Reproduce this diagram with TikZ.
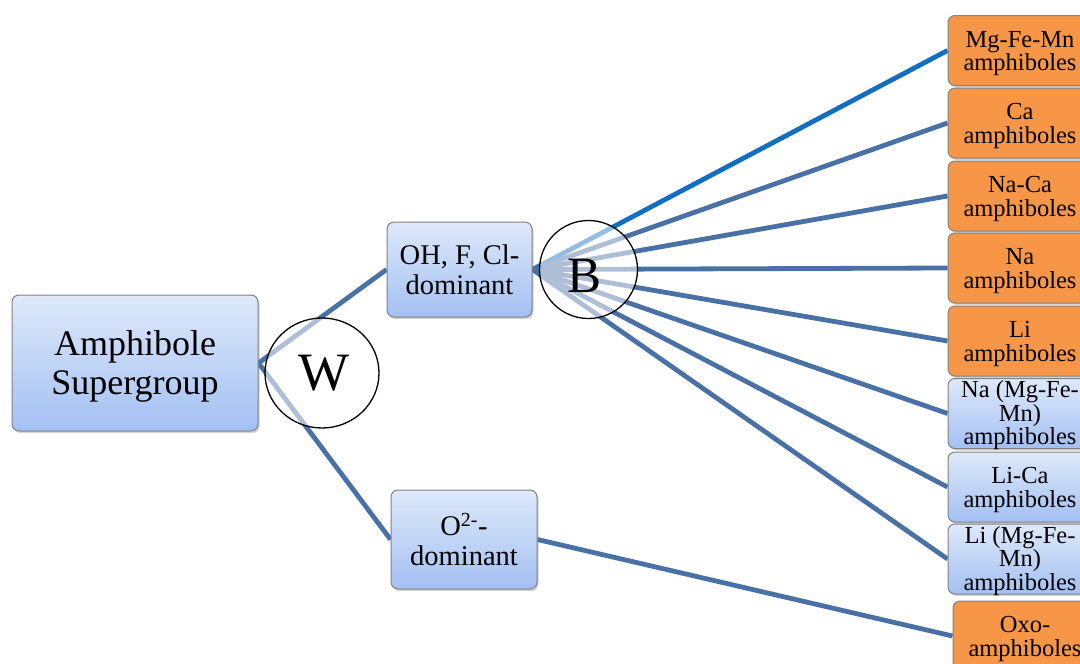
\documentclass[tikz,border=0pt]{standalone}
\usepackage{fontspec}
\setmainfont{Liberation Serif}
\usetikzlibrary{shadows,shapes.geometric}

\definecolor{boxtop}{RGB}{222,233,250}
\definecolor{boxbot}{RGB}{163,192,243}
\definecolor{orangefill}{RGB}{247,150,70}
\definecolor{linkblue}{RGB}{74,113,165}
\definecolor{brightblue}{RGB}{18,110,192}
\definecolor{edgegray}{RGB}{130,130,130}

\pgfdeclarelayer{links}
\pgfsetlayers{links,main}

\tikzset{
  basebox/.style={draw=edgegray, line width=1pt, rounded corners=7pt, inner sep=0pt,
    drop shadow={shadow xshift=1.5pt, shadow yshift=-2pt, opacity=0.35}},
  bluebox/.style={basebox, top color=boxtop, bottom color=boxbot},
  orangebox/.style={basebox, fill=orangefill},
  leaf/.style={minimum width=144pt, minimum height=70pt},
  leaftext/.style={align=center, inner sep=0pt, font=\fontsize{24.5}{23.5}\selectfont},
  midtext/.style={align=center, inner sep=0pt, font=\fontsize{28.5}{30}\selectfont},
  link/.style={draw=linkblue, line width=4.8pt},
  sitering/.style={draw=black, line width=1.3pt, fill=white, fill opacity=0.55, inner sep=0pt}
}

\begin{document}
\begin{tikzpicture}[x=1pt, y=-1pt]
\path[use as bounding box] (0,0) rectangle (1080,664);
\clip (0,0) rectangle (1080,664);

% root and the two W-site branches
\node[bluebox, minimum width=246pt, minimum height=136pt] (root) at (135,363) {};
\node[align=center, inner sep=0pt, font=\fontsize{36}{39}\selectfont] (roott) at ([yshift=-3pt]root) {Amphibole\\Supergroup};
\node[bluebox, minimum width=145pt, minimum height=95pt] (oh) at (459.5,269.5) {};
\node[midtext] (oht) at (oh) {OH, F, Cl-\\dominant};
\node[bluebox, minimum width=146pt, minimum height=99pt] (ox) at (464,539.5) {};
\node[midtext] (oxt) at (ox) {O\textsuperscript{2-}-\\dominant};

% B-site groups
\node[orangebox, leaf] (b1) at (1020,50.5) {};
\node[leaftext] (t1) at ([yshift=-3pt]b1) {Mg-Fe-Mn\\amphiboles};
\node[orangebox, leaf] (b2) at (1020,123) {};
\node[leaftext] (t2) at ([yshift=-3pt]b2) {Ca\\amphiboles};
\node[orangebox, leaf] (b3) at (1020,196) {};
\node[leaftext] (t3) at ([yshift=-3pt]b3) {Na-Ca\\amphiboles};
\node[orangebox, leaf] (b4) at (1020,268) {};
\node[leaftext] (t4) at ([yshift=-3pt]b4) {Na\\amphiboles};
\node[orangebox, leaf] (b5) at (1020,341) {};
\node[leaftext] (t5) at ([yshift=-3pt]b5) {Li\\amphiboles};
\node[bluebox, leaf] (b6) at (1020,413.5) {};
\node[leaftext] (t6) at ([yshift=-2pt]b6) {Na (Mg-Fe-\\Mn)\\amphiboles};
\node[bluebox, leaf] (b7) at (1020,487) {};
\node[leaftext] (t7) at ([yshift=-3pt]b7) {Li-Ca\\amphiboles};
\node[bluebox, leaf] (b8) at (1020,559) {};
\node[leaftext] (t8) at ([yshift=-2pt]b8) {Li (Mg-Fe-\\Mn)\\amphiboles};
\node[orangebox, leaf] (b9) at (1025,636) {};
\node[leaftext] (t9) at ([yshift=-3pt]b9) {Oxo-\\amphiboles};

% connectors, kept underneath the boxes
\begin{pgfonlayer}{links}
\draw[link] (root.east) -- (oh.west);
\draw[link] (root.east) -- (ox.west);
\draw[link, draw=brightblue] (oh.east) -- (b1.west);
\foreach \k in {2,...,8} { \draw[link] (oh.east) -- (b\k.west); }
\draw[link] (ox.east) -- (b9.west);
\end{pgfonlayer}

% site markers
\node[sitering, ellipse, minimum width=114pt, minimum height=110pt] (w) at (322,373) {};
\node[inner sep=0pt, font=\fontsize{54}{54}\selectfont] (wt) at (324,373.5) {W};
\node[sitering, circle, minimum size=98pt] (b) at (588.5,269.5) {};
\node[inner sep=0pt, font=\fontsize{51}{51}\selectfont] (bt) at (584.5,275.5) {B};
\end{tikzpicture}
\end{document}
